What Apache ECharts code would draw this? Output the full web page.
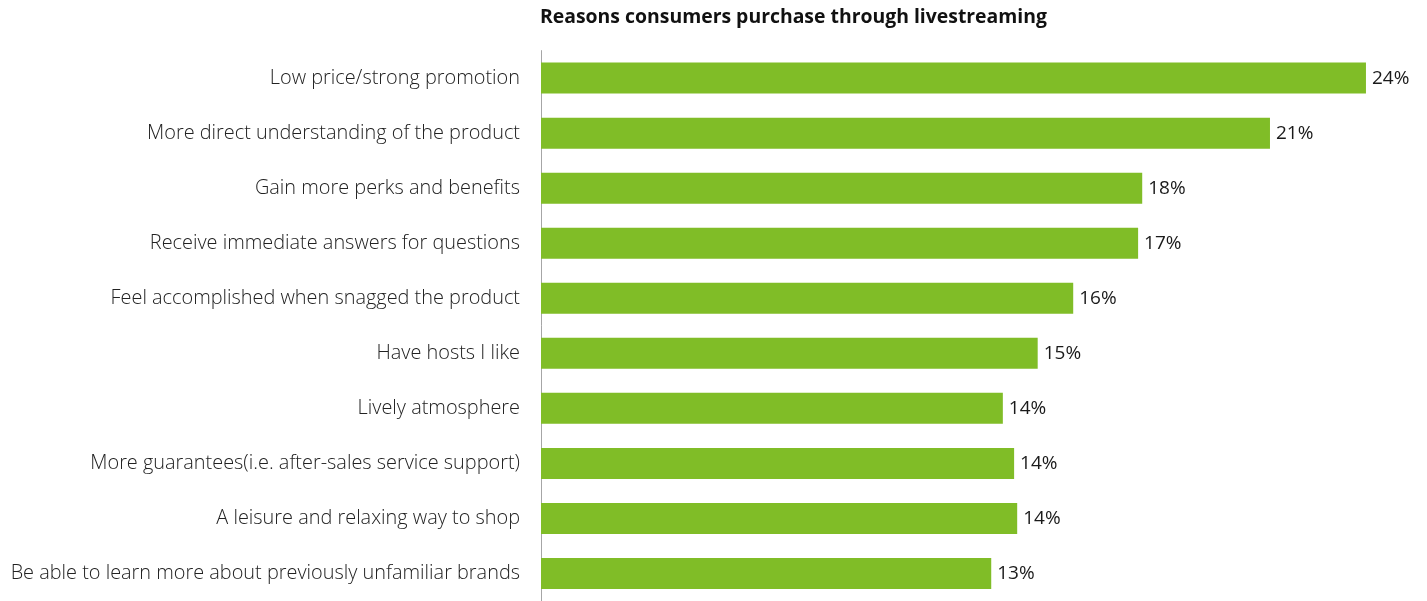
<!DOCTYPE html>
<html>
<head>
<meta charset="utf-8">
<script src="https://cdn.jsdelivr.net/npm/echarts@6/dist/echarts.min.js"></script>
<style>
  html, body { margin: 0; padding: 0; background: #ffffff; }
  #chart { width: 1427px; height: 601px; }
</style>
</head>
<body>
<div id="chart"></div>
<script>
// Reasons for buying through livestreams, top to bottom
const categories = [
  'Low price/strong promotion',
  'More direct understanding of the product',
  'Gain more perks and benefits',
  'Receive immediate answers for questions',
  'Feel accomplished when snagged the product',
  'Have hosts I like',
  'Lively atmosphere',
  'More guarantees(i.e. after-sales service support)',
  'A leisure and relaxing way to shop',
  'Be able to learn more about previously unfamiliar brands'
];
// Share of respondents (%)
const shares = [24.15, 21.34, 17.60, 17.48, 15.58, 14.54, 13.52, 13.85, 13.94, 13.18];

const chart = echarts.init(document.getElementById('chart'), null, { renderer: 'canvas' });

chart.setOption({
  animation: false,
  backgroundColor: '#ffffff',
  title: {
    text: 'Reasons consumers purchase through livestreaming',
    left: 535,
    top: 3,
    textStyle: {
      fontFamily: 'Open Sans',
      fontWeight: 'bold',
      fontSize: 19.4,
      color: '#111111'
    }
  },
  grid: {
    left: 541,
    right: 32,
    top: 50.6,
    bottom: -3.7,
    containLabel: false
  },
  xAxis: {
    type: 'value',
    min: 0,
    max: 25,
    show: false
  },
  yAxis: {
    type: 'category',
    inverse: true,
    data: categories,
    axisLine: { show: true, lineStyle: { color: '#a6a6a6', width: 1 } },
    axisTick: { show: false },
    splitLine: { show: false },
    axisLabel: {
      margin: 21,
      fontFamily: 'Open Sans',
      fontWeight: 300,
      fontSize: 19.9,
      color: '#222222'
    }
  },
  series: [{
    type: 'bar',
    data: shares,
    barWidth: 31,
    itemStyle: { color: '#80bd27' },
    label: {
      show: true,
      position: 'right',
      distance: 6,
      fontFamily: 'Open Sans',
      fontSize: 19,
      color: '#1a1a1a',
      formatter: p => Math.round(p.value) + '%'
    }
  }]
});
</script>
</body>
</html>
